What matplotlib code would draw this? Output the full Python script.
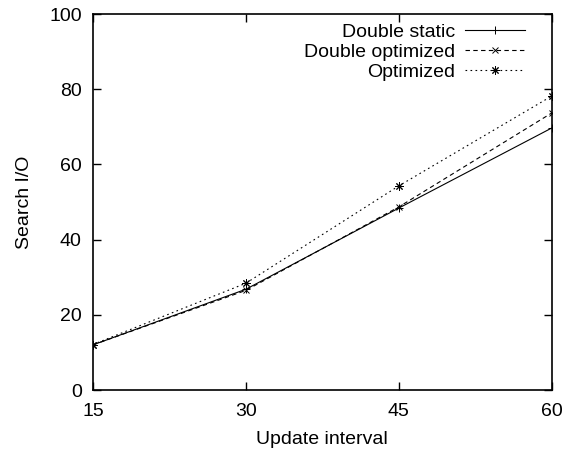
import numpy as np
import matplotlib.pyplot as plt

plt.rcParams['font.family'] = ['Liberation Sans', 'DejaVu Sans']

# update interval on x, search I/O on y
intervals = [15, 30, 45, 60]
double_static = [12.0, 26.8, 48.4, 69.7]
double_optimized = [12.0, 26.5, 48.7, 73.7]
optimized = [12.1, 28.4, 54.3, 78.2]

fig = plt.figure(figsize=(5.7, 4.59), dpi=100)
ax = fig.add_axes([0.163, 0.1503, 0.805, 0.819])

ax.plot(intervals, double_static, color='black', lw=0.8, marker='+', ms=6,
        mew=0.7, label='Double static')
ax.plot(intervals, double_optimized, color='black', lw=0.8, ls=(0, (4, 3)),
        marker='x', ms=5, mew=0.7, label='Double optimized')
ax.plot(intervals, optimized, color='black', lw=0.8, ls=(0, (1.5, 3)),
        marker=(8, 2, 0), ms=6, mew=0.7, label='Optimized')

ax.set_xlim(15, 60)
ax.set_ylim(0, 100)
ax.set_xticks([15, 30, 45, 60])
ax.set_yticks(np.arange(0, 101, 20))
ax.tick_params(direction='in', top=True, right=True, length=6, width=1,
               labelsize=14)
ax.tick_params(axis='y', pad=8)
ax.tick_params(axis='x', pad=9)
for s in ax.spines.values():
    s.set_linewidth(1.2)

ax.set_xlabel('Update interval', fontsize=14, labelpad=8)
ax.set_ylabel('Search I/O', fontsize=14, labelpad=12)

leg = ax.legend(loc='upper right', frameon=False, markerfirst=False,
                fontsize=14, handlelength=3.1, handletextpad=0.5,
                labelspacing=0.13, borderpad=0, borderaxespad=0,
                bbox_to_anchor=(0.921, 0.95), bbox_transform=fig.transFigure)
for t in leg.get_texts():
    t.set_ha('right')

fig.savefig('out.png', dpi=100)
